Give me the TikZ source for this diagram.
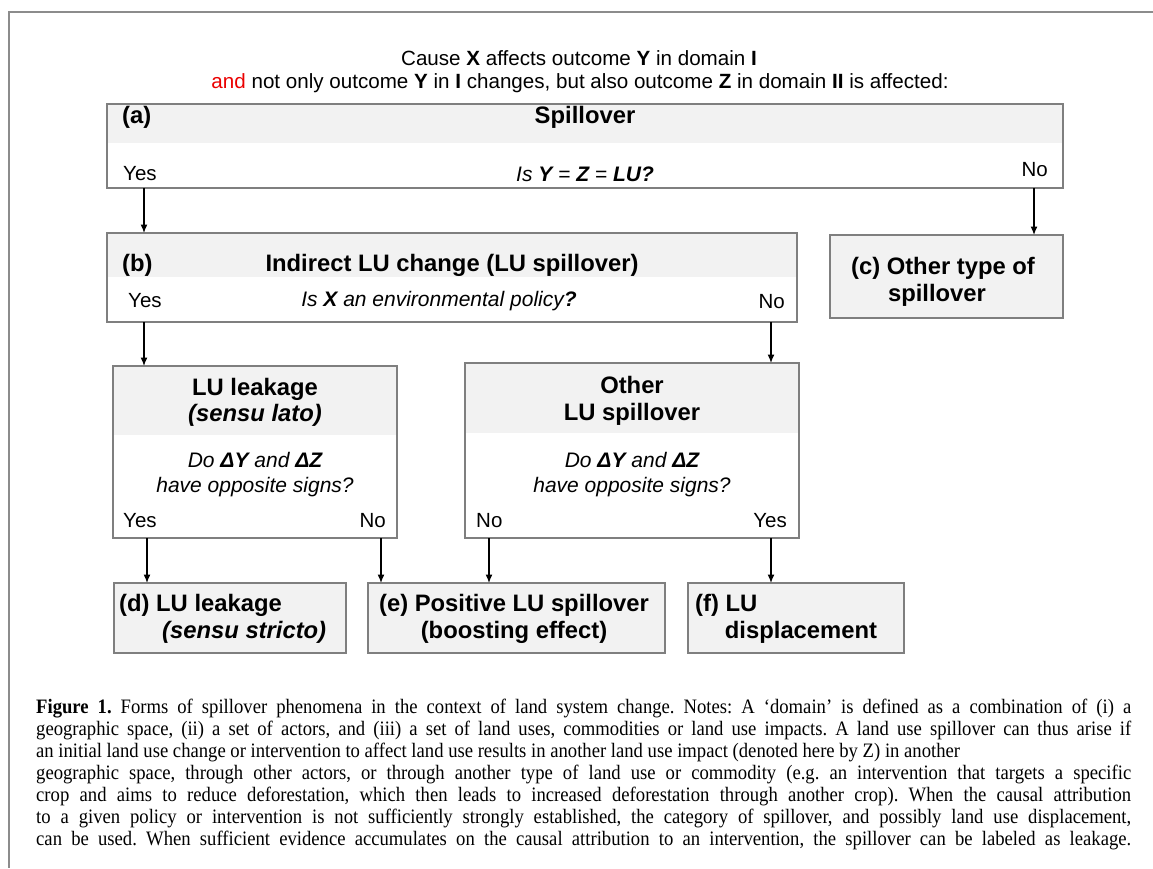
\documentclass[tikz,border=0pt]{standalone}
\usepackage{fontspec}
\setmainfont{Liberation Sans}
\newfontfamily\capfont[FakeStretch=0.91]{Liberation Serif}
\usetikzlibrary{arrows.meta}
\definecolor{bordergray}{RGB}{127,127,127}
\definecolor{fillgray}{RGB}{242,242,242}
\definecolor{framegray}{RGB}{140,140,140}
\definecolor{andred}{RGB}{235,0,0}
\begin{document}
\frenchspacing
\begin{tikzpicture}[x=1pt,y=-1pt,
  box/.style={rectangle, draw=bordergray, line width=2.5pt, fill=white, inner sep=0pt, outer sep=0pt, anchor=north west},
  graybox/.style={box, fill=fillgray},
  band/.style={path picture={\fill[fillgray] (path picture bounding box.north west) rectangle ([yshift=-#1]path picture bounding box.north east);}},
  ttl/.style={font=\fontsize{23.8}{28}\selectfont\bfseries, inner sep=0pt, anchor=base},
  qst/.style={font=\fontsize{21}{25}\selectfont\itshape, inner sep=0pt, anchor=base},
  yn/.style={font=\fontsize{20.5}{24}\selectfont, inner sep=0pt},
  hdr/.style={font=\fontsize{20.6}{24}\selectfont, inner sep=0pt, anchor=base},
  captext/.style={font=\capfont\fontsize{20.5}{24}\selectfont, inner sep=0pt, anchor=base west},
  arr/.style={-{Latex[length=8.5pt,width=7pt]}, line width=1.3pt, black}]
\useasboundingbox (0,0) rectangle (1153,868);
\fill[white] (0,0) rectangle (1153,868);
% frame
\draw[framegray, line width=2pt] (1153,12) -- (8.7,12) -- (8.7,868);
% header
\node[hdr] (hdr1) at (579,65) {Cause \textbf{X} affects outcome \textbf{Y} in domain \textbf{I}};
\node[hdr] (hdr2) at (580,88) {\textcolor{andred}{and} not only outcome \textbf{Y} in \textbf{I} changes, but also outcome \textbf{Z} in domain \textbf{II} is affected:};
% box a
\node[box, band=39pt, minimum width=956pt, minimum height=84pt] (boxa) at (107,104) {};
\node[ttl, anchor=base west] (alab) at (122,123) {(a)};
\node[ttl] (atitle) at (585,123) {Spillover};
\node[yn, anchor=base west] (ayes) at (123,180) {Yes};
\node[qst] (aq) at (585,181) {Is \textbf{Y} = \textbf{Z} = \textbf{LU?}};
\node[yn, anchor=base east] (ano) at (1048,176) {No};
% box b
\node[box, band=44pt, minimum width=690pt, minimum height=89pt] (boxb) at (107,233) {};
\node[ttl, anchor=base west] (blab) at (122,271) {(b)};
\node[ttl] (btitle) at (452,271) {Indirect LU change (LU spillover)};
\node[yn, anchor=base west] (byes) at (128,307) {Yes};
\node[qst] (bq) at (439,306) {Is \textbf{X} an environmental policy\textbf{?}};
\node[yn, anchor=base east] (bno) at (785,308) {No};
% box c
\node[graybox, minimum width=233pt, minimum height=83pt] (boxc) at (830,235) {};
\node[ttl] (c1) at (943,274) {(c) Other type of};
\node[ttl] (c2) at (937,301) {spillover};
% leakage box
\node[box, band=69pt, minimum width=284pt, minimum height=172pt] (leak) at (113,366) {};
\node[ttl] (l1) at (255,395) {LU leakage};
\node[ttl] (l2) at (255,421) {\itshape (sensu lato)};
\node[qst] (l3) at (255,467) {Do \textbf{ΔY} and \textbf{ΔZ}};
\node[qst] (l4) at (255,492) {have opposite signs?};
\node[yn, anchor=base west] (lyes) at (123,527) {Yes};
\node[yn, anchor=base east] (lno) at (386,527) {No};
% other box
\node[box, band=70pt, minimum width=334pt, minimum height=175pt] (oth) at (465,363) {};
\node[ttl] (o1) at (632,393) {Other};
\node[ttl] (o2) at (632,420) {LU spillover};
\node[qst] (o3) at (632,467) {Do \textbf{ΔY} and \textbf{ΔZ}};
\node[qst] (o4) at (632,492) {have opposite signs?};
\node[yn, anchor=base west] (ono) at (476,527) {No};
\node[yn, anchor=base east] (oyes) at (787,527) {Yes};
% bottom boxes
\node[graybox, minimum width=232pt, minimum height=70pt] (boxd) at (114,583) {};
\node[ttl, anchor=base west] (d1) at (119,611) {(d) LU leakage};
\node[ttl, anchor=base west] (d2) at (162,638) {\itshape (sensu stricto)};
\node[graybox, minimum width=297pt, minimum height=70pt] (boxe) at (368,583) {};
\node[ttl] (e1) at (514,611) {(e) Positive LU spillover};
\node[ttl] (e2) at (514,638) {(boosting effect)};
\node[graybox, minimum width=216pt, minimum height=70pt] (boxf) at (688,583) {};
\node[ttl, anchor=base west] (f1) at (695,611) {(f) LU};
\node[ttl] (f2) at (801,638) {displacement};
% arrows
\draw[arr] ([xshift=37pt]boxa.south west) -- ([xshift=37pt]boxb.north west);
\draw[arr] ([xshift=-29pt]boxa.south east) -- ([xshift=-29pt]boxc.north east);
\draw[arr] ([xshift=37pt]boxb.south west) -- ([xshift=31pt]leak.north west);
\draw[arr] ([xshift=-26pt]boxb.south east) -- ([xshift=-28pt]oth.north east);
\draw[arr] ([xshift=34pt]leak.south west) -- ([xshift=33pt]boxd.north west);
\draw[arr] ([xshift=-16pt]leak.south east) -- ([xshift=13pt]boxe.north west);
\draw[arr] ([xshift=24pt]oth.south west) -- ([xshift=121pt]boxe.north west);
\draw[arr] ([xshift=-28pt]oth.south east) -- ([xshift=83pt]boxf.north west);
% caption
\node[captext] (cap1) at (36,713) {\makebox[1095pt][s]{\textbf{Figure 1.} Forms of spillover phenomena in the context of land system change. Notes: A ‘domain’ is defined as a combination of (i) a}};
\node[captext] (cap2) at (36,735) {\makebox[1095pt][s]{geographic space, (ii) a set of actors, and (iii) a set of land uses, commodities or land use impacts. A land use spillover can thus arise if}};
\node[captext] (cap3) at (36,757) {an initial land use change or intervention to affect land use results in another land use impact (denoted here by Z) in another};
\node[captext] (cap4) at (36,779) {\makebox[1095pt][s]{geographic space, through other actors, or through another type of land use or commodity (e.g. an intervention that targets a specific}};
\node[captext] (cap5) at (36,801) {\makebox[1095pt][s]{crop and aims to reduce deforestation, which then leads to increased deforestation through another crop). When the causal attribution}};
\node[captext] (cap6) at (36,823) {\makebox[1095pt][s]{to a given policy or intervention is not sufficiently strongly established, the category of spillover, and possibly land use displacement,}};
\node[captext] (cap7) at (36,845) {\makebox[1095pt][s]{can be used. When sufficient evidence accumulates on the causal attribution to an intervention, the spillover can be labeled as leakage.}};
\end{tikzpicture}
\end{document}
